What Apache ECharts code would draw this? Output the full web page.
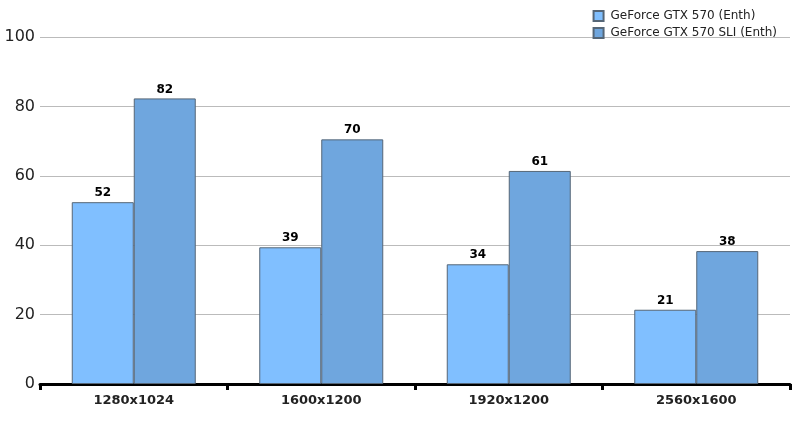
<!DOCTYPE html>
<html>
<head>
<meta charset="utf-8">
<script src="https://cdn.jsdelivr.net/npm/echarts@6/dist/echarts.min.js"></script>
<style>
  html, body { margin: 0; padding: 0; background: #fff; }
  #chart { width: 805px; height: 421px; }
</style>
</head>
<body>
<div id="chart"></div>
<script>
var categories = ['1280x1024', '1600x1200', '1920x1200', '2560x1600'];
var seriesNames = ['GeForce GTX 570 (Enth)', 'GeForce GTX 570 SLI (Enth)'];
var single = [52.4, 39.4, 34.5, 21.4];
var sli = [82.3, 70.5, 61.4, 38.3];
var yTicks = [0, 20, 40, 60, 80, 100];

var myChart = echarts.init(document.getElementById('chart'));

var labelStyle = {
    show: true,
    position: 'top',
    distance: 3,
    color: '#000',
    fontFamily: 'DejaVu Sans',
    fontWeight: 'bold',
    fontSize: 12,
    formatter: function (p) { return Math.floor(p.value); }
};

var option = {
    backgroundColor: '#fff',
    animation: false,
    grid: {
        left: 40,
        right: 15,
        top: 37,
        bottom: 37
    },
    legend: {
        orient: 'vertical',
        right: 23,
        top: 5,
        itemWidth: 10,
        itemHeight: 10,
        itemGap: 5,
        icon: 'rect',
        textStyle: {
            fontFamily: 'DejaVu Sans',
            fontSize: 12,
            color: '#222',
            padding: [0, 0, 0, 2]
        },
        data: seriesNames
    },
    xAxis: {
        type: 'category',
        data: categories,
        axisLine: {
            lineStyle: { color: '#000', width: 3 }
        },
        axisTick: {
            show: true,
            length: 6,
            lineStyle: { color: '#000', width: 3 }
        },
        axisLabel: {
            color: '#222',
            fontFamily: 'DejaVu Sans',
            fontWeight: 'bold',
            fontSize: 13,
            margin: 10
        }
    },
    yAxis: {
        type: 'value',
        min: yTicks[0],
        max: yTicks[yTicks.length - 1],
        interval: 20,
        axisLine: { show: false },
        axisTick: { show: false },
        splitLine: {
            lineStyle: { color: '#bbb', width: 1 }
        },
        axisLabel: {
            color: '#222',
            fontFamily: 'DejaVu Sans',
            fontSize: 16,
            margin: 5
        }
    },
    series: [
        {
            name: seriesNames[0],
            type: 'bar',
            barWidth: 62,
            barGap: '0%',
            itemStyle: {
                color: '#80bfff',
                borderColor: '#556677',
                borderWidth: 1
            },
            label: labelStyle,
            data: single
        },
        {
            name: seriesNames[1],
            type: 'bar',
            barWidth: 62,
            barGap: '0%',
            itemStyle: {
                color: '#6fa6de',
                borderColor: '#556677',
                borderWidth: 1
            },
            label: labelStyle,
            data: sli
        }
    ]
};
myChart.setOption(option);
</script>
</body>
</html>
